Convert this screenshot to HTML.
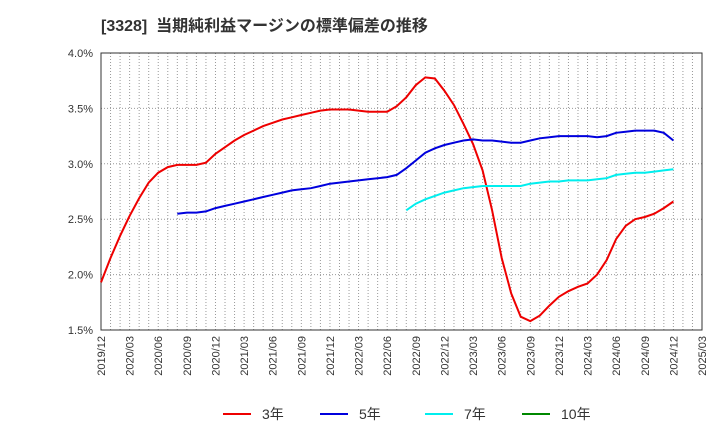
<!DOCTYPE html>
<html><head><meta charset="utf-8"><style>
body{margin:0;background:#fff;font-family:"Liberation Sans","Noto Sans CJK JP",sans-serif}
svg text{font-family:"Liberation Sans","Noto Sans CJK JP",sans-serif}
</style></head><body>
<svg width="720" height="440" id="c">
<text x="101" y="31" font-size="16" font-weight="bold" fill="#333" xml:space="preserve">[3328]  当期純利益マージンの標準偏差の推移</text>
</svg>
<script>
const xLabels=["2019/12","2020/03","2020/06","2020/09","2020/12","2021/03","2021/06","2021/09","2021/12","2022/03","2022/06","2022/09","2022/12","2023/03","2023/06","2023/09","2023/12","2024/03","2024/06","2024/09","2024/12","2025/03"];
const yTicks=[1.5,2.0,2.5,3.0,3.5,4.0];
const s3=[1.93,2.15,2.35,2.53,2.69,2.83,2.92,2.97,2.99,2.99,2.99,3.01,3.09,3.15,3.21,3.26,3.30,3.34,3.37,3.40,3.42,3.44,3.46,3.48,3.49,3.49,3.49,3.48,3.47,3.47,3.47,3.52,3.60,3.71,3.78,3.77,3.66,3.53,3.36,3.18,2.94,2.58,2.15,1.83,1.62,1.58,1.63,1.72,1.80,1.85,1.89,1.92,2.00,2.13,2.32,2.44,2.50,2.52,2.55,2.60,2.66];
const s5Start=8;
const s5=[2.55,2.56,2.56,2.57,2.60,2.62,2.64,2.66,2.68,2.70,2.72,2.74,2.76,2.77,2.78,2.80,2.82,2.83,2.84,2.85,2.86,2.87,2.88,2.90,2.96,3.03,3.10,3.14,3.17,3.19,3.21,3.22,3.21,3.21,3.20,3.19,3.19,3.21,3.23,3.24,3.25,3.25,3.25,3.25,3.24,3.25,3.28,3.29,3.30,3.30,3.30,3.28,3.21];
const s7Start=32;
const s7=[2.58,2.64,2.68,2.71,2.74,2.76,2.78,2.79,2.80,2.80,2.80,2.80,2.80,2.82,2.83,2.84,2.84,2.85,2.85,2.85,2.86,2.87,2.90,2.91,2.92,2.92,2.93,2.94,2.95];
const s10=[];
const L=101,R=702,T=53,B=330,NM=63;
const X=i=>L+i*(R-L)/NM;
const Y=v=>B-(v-1.5)/2.5*(B-T);
const svg=document.getElementById('c');
const NS="http://www.w3.org/2000/svg";
function mk(t,a){const e=document.createElementNS(NS,t);for(const k in a)e.setAttribute(k,a[k]);svg.appendChild(e);return e;}
for(let m=1;m<NM;m++){const g=mk('line',{x1:X(m),x2:X(m),y1:T,y2:B,stroke:'#999','stroke-dasharray':'1,2','stroke-width':1});

}
yTicks.forEach(v=>{const g=mk('line',{x1:L,x2:R,y1:Y(v),y2:Y(v),stroke:'#999','stroke-dasharray':'1,2'});


const t=mk('text',{x:L-8,y:Y(v)+4,'text-anchor':'end','font-size':11,fill:'#333'});t.textContent=v.toFixed(1)+'%';

});
const fr=mk('rect',{x:L,y:T,width:R-L,height:B-T,fill:'none',stroke:'#333'});


xLabels.forEach((s,i)=>{const x=X(i*3);const t=mk('text',{transform:`translate(${x+4},${B+6}) rotate(-90)`,'text-anchor':'end','font-size':11,fill:'#333'});t.textContent=s;

});
function line(arr,st,col,name){if(!arr.length)return;const p=arr.map((v,i)=>X(i+st).toFixed(1)+','+Y(v).toFixed(1)).join(' ');
const e=mk('polyline',{points:p,fill:'none',stroke:col,'stroke-width':2});

}
line(s3,0,'#e00','series-3y');line(s5,s5Start,'#00d','series-5y');line(s7,s7Start,'#0ee','series-7y');line(s10,0,'#080','series-10y');
[['3年','#e00',223],['5年','#00d',320],['7年','#0ee',425],['10年','#080',522]].forEach(([n,c,x])=>{
const l=mk('line',{x1:x,x2:x+28,y1:414,y2:414,stroke:c,'stroke-width':2});


const t=mk('text',{x:x+39,y:419,'font-size':14,fill:'#333'});t.textContent=n;

});
</script>
</body></html>
